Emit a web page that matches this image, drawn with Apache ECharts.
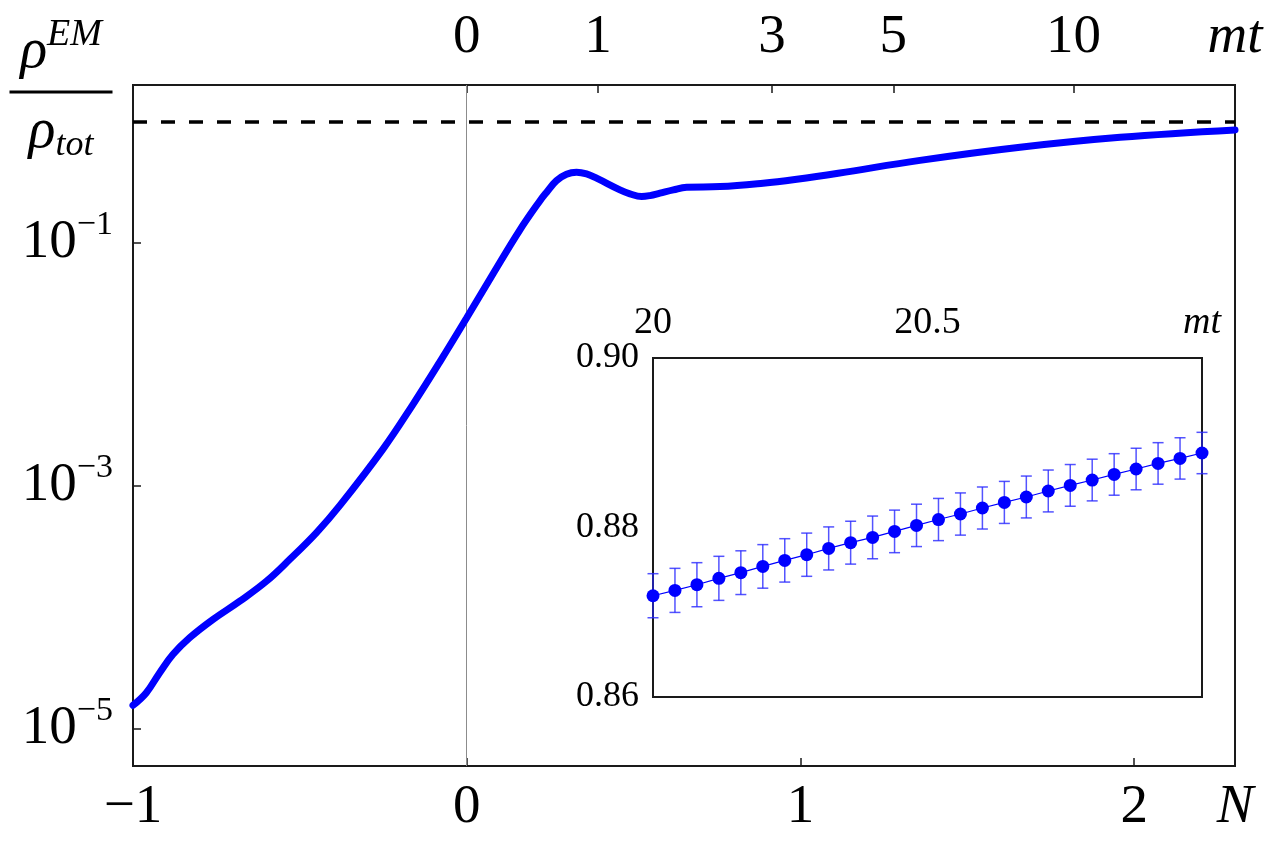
<!DOCTYPE html>
<html>
<head>
<meta charset="utf-8">
<script src="https://cdn.jsdelivr.net/npm/echarts@6/dist/echarts.min.js"></script>
<style>
  html, body { margin: 0; padding: 0; background: #fff; }
  #main { width: 1275px; height: 857px; }
</style>
</head>
<body>
<div id="main"></div>
<script>
// main curve: e-folds N and log10(rho_EM / rho_tot)
var mainN = [-1.000, -0.960, -0.920, -0.880, -0.830, -0.760, -0.680, -0.600, -0.530, -0.450,
             -0.380, -0.251, -0.161, -0.081, 0.000, 0.079, 0.159, 0.219, 0.239, 0.269,
             0.299, 0.329, 0.359, 0.389, 0.459, 0.489, 0.524, 0.549, 0.579, 0.619,
             0.659, 0.759, 0.888, 0.989, 1.113, 1.358, 1.658, 1.958, 2.302];
var mainLogRatio = [-4.808, -4.704, -4.539, -4.388, -4.251, -4.100, -3.950, -3.785, -3.605, -3.385,
                    -3.161, -2.697, -2.328, -1.980, -1.615, -1.252, -0.892, -0.652, -0.582, -0.485,
                    -0.432, -0.416, -0.430, -0.465, -0.561, -0.594, -0.616, -0.608, -0.588, -0.561,
                    -0.539, -0.534, -0.506, -0.473, -0.424, -0.318, -0.210, -0.128, -0.067];

// inset: mt, ratio, error
var insetTime = [20.00, 20.04, 20.08, 20.12, 20.16, 20.20, 20.24, 20.28, 20.32, 20.36,
                 20.40, 20.44, 20.48, 20.52, 20.56, 20.60, 20.64, 20.68, 20.72, 20.76,
                 20.80, 20.84, 20.88, 20.92, 20.96, 21.00];
var insetRatio = [0.87195, 0.87258, 0.87325, 0.87400, 0.87467, 0.87541, 0.87612, 0.87679, 0.87753, 0.87821,
                  0.87883, 0.87954, 0.88025, 0.88094, 0.88159, 0.88230, 0.88296, 0.88360, 0.88431, 0.88497,
                  0.88560, 0.88626, 0.88690, 0.88756, 0.88815, 0.88879];
var insetErr = [0.0026, 0.0026, 0.0026, 0.0026, 0.00258, 0.00257, 0.00256, 0.00255, 0.00254, 0.00253,
                0.00252, 0.00251, 0.0025, 0.00249, 0.00249, 0.00248, 0.00248, 0.00247, 0.00247, 0.00246,
                0.00246, 0.00245, 0.00245, 0.00245, 0.00244, 0.00244];

// ticks
var nMin = -1, nMax = 2.302;
var logMin = -5.308, logMax = 0.303;
var bottomTicks = [-1, 0, 1, 2];
var topTickN = [0, 0.393, 0.915, 1.278, 1.818];
var topTickLabels = ['0', '1', '3', '5', '10'];
var leftTicks = [-5, -3, -1];
var insetXTicks = [20, 20.5, 21];
var insetXLabels = ['20', '20.5', 'mt'];
var insetYTicks = [0.86, 0.88, 0.90];

var serif = "'Liberation Serif', 'DejaVu Serif', serif";
var blue = '#0000ff';
var ink = '#1a1a1a';

function minus(v) {
    return v < 0 ? '\u2212' + Math.abs(v) : String(v);
}
function near(a, b) { return Math.abs(a - b) < 1e-6; }

var myChart = echarts.init(document.getElementById('main'));

var mainData = mainN.map(function (n, i) { return [n, mainLogRatio[i]]; });
var insetData = insetTime.map(function (t, i) { return [t, insetRatio[i]]; });
var errData = insetTime.map(function (t, i) { return [t, insetRatio[i] - insetErr[i], insetRatio[i] + insetErr[i]]; });

function renderErr(params, api) {
    var x = api.value(0);
    var top = api.coord([x, api.value(2)]);
    var bot = api.coord([x, api.value(1)]);
    var c = 5.5;
    var st = { stroke: 'rgba(40,40,255,0.8)', lineWidth: 1.5 };
    return {
        type: 'group',
        children: [
            { type: 'line', shape: { x1: top[0], y1: top[1], x2: bot[0], y2: bot[1] }, style: st },
            { type: 'line', shape: { x1: top[0] - c, y1: top[1], x2: top[0] + c, y2: top[1] }, style: st },
            { type: 'line', shape: { x1: bot[0] - c, y1: bot[1], x2: bot[0] + c, y2: bot[1] }, style: st }
        ]
    };
}

var axisLine = { show: true, onZero: false, lineStyle: { color: ink, width: 2 } };
function italic(size, extra) {
    var s = { fontSize: size, fontFamily: serif, fontStyle: 'italic', fontWeight: 'normal', color: '#000' };
    for (var k in extra) s[k] = extra[k];
    return s;
}

option = {
    backgroundColor: '#fff',
    animation: false,
    title: {
        left: 56,
        top: 11,
        textAlign: 'center',
        text: '{r|\u03c1}{sup|EM}\n{bar| }\n{r2|\u03c1}{sub|tot}',
        textStyle: {
            fontWeight: 'normal',
            fontFamily: serif,
            rich: {
                r: italic(56, { verticalAlign: 'bottom', lineHeight: 60 }),
                sup: italic(38, { verticalAlign: 'bottom', padding: [0, 0, 26, 0] }),
                bar: { width: 103, height: 3, lineHeight: 24, backgroundColor: '#000', fontSize: 2 },
                r2: italic(56, { verticalAlign: 'bottom', lineHeight: 60, padding: [0, 0, 4, 0] }),
                sub: italic(36, { verticalAlign: 'bottom' })
            }
        }
    },
    grid: [
        { left: 133, top: 85, right: 40, bottom: 91, show: true, borderColor: ink, borderWidth: 2 },
        { left: 653, top: 358, right: 73, bottom: 160, show: true, borderColor: ink, borderWidth: 2,
          backgroundColor: '#fff', z: 5 }
    ],
    xAxis: [
        {
            gridIndex: 0, type: 'value', position: 'bottom', min: nMin, max: nMax,
            axisLine: axisLine,
            splitLine: { show: false },
            axisTick: { inside: true, length: 8, customValues: bottomTicks, lineStyle: { color: ink, width: 1.5 } },
            axisLabel: {
                customValues: bottomTicks.concat([nMax]),
                margin: 14,
                fontSize: 55, fontFamily: serif, color: '#000',
                formatter: function (v) { return near(v, nMax) ? '{i|N}' : minus(v); },
                rich: { i: italic(55) }
            }
        },
        {
            gridIndex: 0, type: 'value', position: 'top', min: nMin, max: nMax,
            axisLine: axisLine,
            splitLine: { show: false },
            axisTick: { inside: true, length: 8, customValues: topTickN, lineStyle: { color: ink, width: 1.5 } },
            axisLabel: {
                customValues: topTickN.concat([nMax]),
                margin: 20,
                fontSize: 55, fontFamily: serif, color: '#000',
                formatter: function (v) {
                    if (near(v, nMax)) return '{i|mt}';
                    for (var k = 0; k < topTickN.length; k++) {
                        if (near(v, topTickN[k])) return topTickLabels[k];
                    }
                    return '';
                },
                rich: { i: italic(55) }
            }
        },
        {
            gridIndex: 1, type: 'value', position: 'top', min: 20, max: 21,
            axisLine: axisLine,
            splitLine: { show: false },
            axisTick: { inside: true, length: 7, customValues: insetXTicks, lineStyle: { color: ink, width: 1.5 } },
            axisLabel: {
                customValues: insetXTicks,
                margin: 16,
                fontSize: 38, fontFamily: serif, color: '#000',
                formatter: function (v) {
                    for (var k = 0; k < insetXTicks.length; k++) {
                        if (near(v, insetXTicks[k])) {
                            return insetXLabels[k] === 'mt' ? '{i|mt}' : insetXLabels[k];
                        }
                    }
                    return '';
                },
                rich: { i: italic(38) }
            }
        }
    ],
    yAxis: [
        {
            gridIndex: 0, type: 'value', min: logMin, max: logMax,
            axisLine: axisLine,
            splitLine: { show: false },
            axisTick: { inside: true, length: 8, customValues: leftTicks, lineStyle: { color: ink, width: 1.5 } },
            axisLabel: {
                customValues: leftTicks,
                margin: 20,
                padding: [0, 0, 8, 0],
                formatter: function (v) { return '{b|10}{s|' + minus(v) + '}'; },
                rich: {
                    b: { fontSize: 55, fontFamily: serif, color: '#000', verticalAlign: 'bottom' },
                    s: { fontSize: 34, fontFamily: serif, color: '#000', verticalAlign: 'bottom', padding: [0, 0, 28, 0] }
                }
            }
        },
        {
            gridIndex: 1, type: 'value', min: 0.86, max: 0.90,
            axisLine: axisLine,
            splitLine: { show: false },
            axisTick: { inside: true, length: 7, customValues: insetYTicks, lineStyle: { color: ink, width: 1.5 } },
            axisLabel: {
                customValues: insetYTicks,
                margin: 14,
                fontSize: 36, fontFamily: serif, color: '#000',
                formatter: function (v) { return v.toFixed(2); }
            }
        }
    ],
    series: [
        {
            type: 'line',
            xAxisIndex: 0, yAxisIndex: 0,
            data: mainData,
            showSymbol: false,
            smooth: 0.4,
            lineStyle: { color: blue, width: 7, cap: 'round' },
            z: 3,
            markLine: {
                silent: true,
                symbol: 'none',
                z: 1,
                label: { show: false },
                data: [
                    { xAxis: 0, lineStyle: { color: '#8c8c8c', width: 1, type: 'solid' } },
                    { yAxis: 0, lineStyle: { color: '#000', width: 3.5, type: [14, 14] } }
                ]
            }
        },
        {
            type: 'custom',
            xAxisIndex: 2, yAxisIndex: 1,
            data: errData,
            renderItem: renderErr,
            encode: { x: 0, y: [1, 2] },
            z: 6
        },
        {
            type: 'line',
            xAxisIndex: 2, yAxisIndex: 1,
            data: insetData,
            symbol: 'circle',
            symbolSize: 13,
            itemStyle: { color: blue },
            lineStyle: { color: blue, width: 1.2 },
            z: 7
        }
    ]
};
myChart.setOption(option);
</script>
</body>
</html>
